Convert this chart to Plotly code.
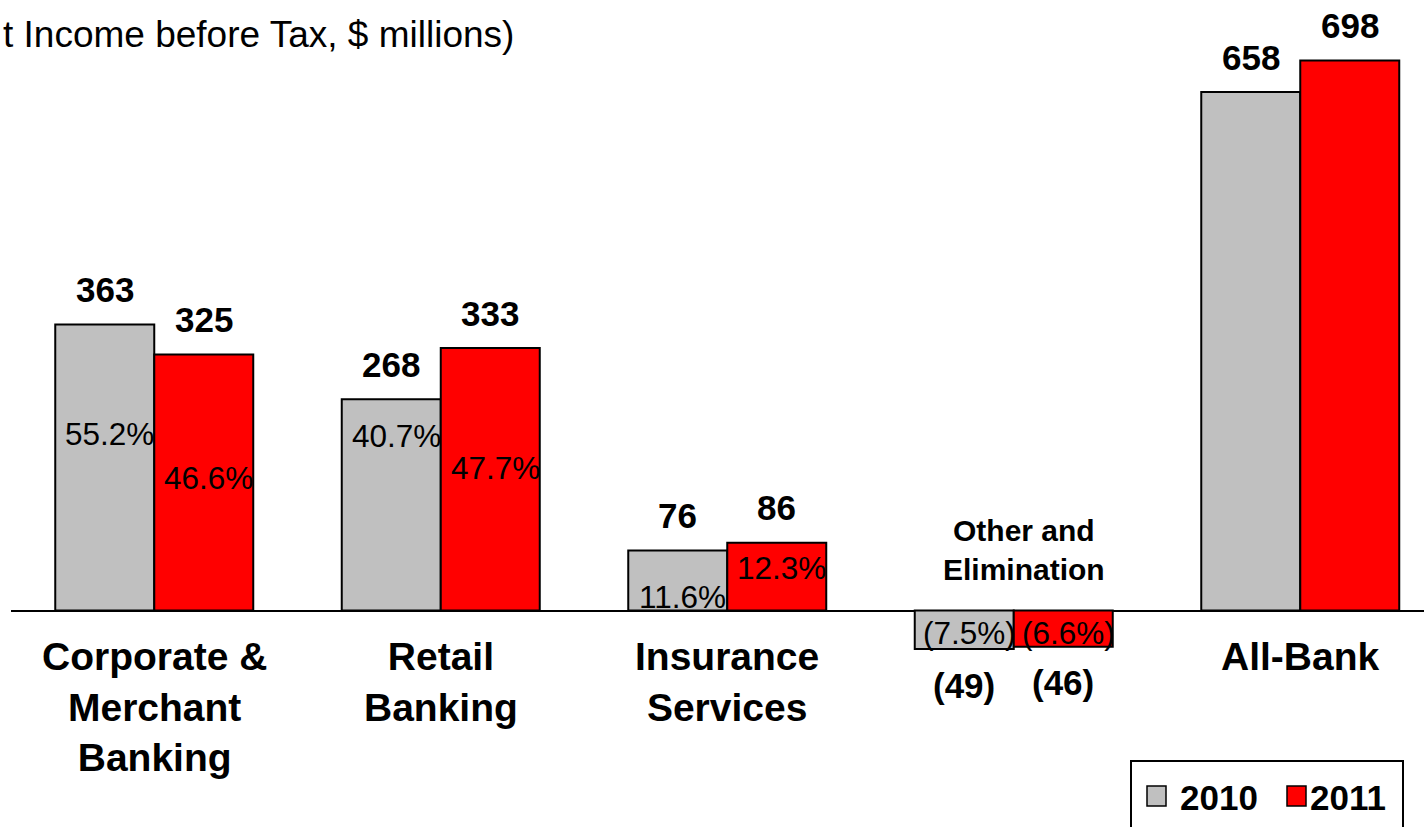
import plotly.graph_objects as go

# ---------------- data ----------------
categories = ["Corporate &<br>Merchant<br>Banking", "Retail<br>Banking",
              "Insurance<br>Services", "Other and<br>Elimination", "All-Bank"]
series_names = ["2010", "2011"]
values_2010 = [363, 268, 76, -49, 658]
values_2011 = [325, 333, 86, -46, 698]
share_2010 = ["55.2%", "40.7%", "11.6%", "(7.5%)", None]
share_2011 = ["46.6%", "47.7%", "12.3%", "(6.6%)", None]
title_text = "t Income before Tax, $ millions)"

# ---------------- style ----------------
W, H = 1424, 827
colors = ["#C0C0C0", "#FF0000"]
FONT = "Arial, 'Liberation Sans', sans-serif"
px_per_unit = 0.788
baseline_px = 610.5
x_left_px = 11
cat_step_px = 286.5
bar_w = 99 / cat_step_px
# vertical placement (in data units) of the share labels inside bars
share_y_2010 = [224, 221, 17, -28.5, None]
share_y_2011 = [168, 181, 54, -28.5, None]
label_above = [False, False, False, True, False]

y_top = baseline_px / px_per_unit
y_bot = (baseline_px - H) / px_per_unit
x_range = [-0.5, -0.5 + (W - x_left_px) / cat_step_px]

xs = list(range(len(categories)))
fig = go.Figure()
all_vals = [values_2010, values_2011]
all_share = [share_2010, share_2011]
all_share_y = [share_y_2010, share_y_2011]
offsets = [-bar_w, 0]

for k in range(2):
    fig.add_trace(go.Bar(
        x=xs, y=all_vals[k], name=series_names[k],
        width=bar_w, offset=offsets[k],
        marker=dict(color=colors[k], line=dict(color="black", width=2)),
        showlegend=False, hoverinfo="skip",
    ))

ann = []
for k in range(2):
    for j, v in enumerate(all_vals[k]):
        cx = j + offsets[k] + bar_w / 2
        txt = f"{v}" if v >= 0 else f"({-v})"
        ann.append(dict(x=cx, y=v, xref="x", yref="y", text=f"<b>{txt}</b>",
                        showarrow=False, yanchor="middle",
                        yshift=35 if v >= 0 else -36,
                        font=dict(family=FONT, size=35, color="black")))
        s = all_share[k][j]
        if s:
            ann.append(dict(x=cx, y=all_share_y[k][j], xref="x", yref="y",
                            text=s, showarrow=False, yanchor="middle", xshift=5,
                            font=dict(family=FONT, size=31.5, color="black")))

for j, c in enumerate(categories):
    if label_above[j]:
        ann.append(dict(x=j, y=0, xref="x", yref="y", text=f"<b>{c}</b>",
                        showarrow=False, yanchor="bottom", yshift=23, xshift=10,
                        font=dict(family=FONT, size=30, color="black")))
    else:
        ann.append(dict(x=j, y=0, xref="x", yref="y", text=f"<b>{c}</b>",
                        showarrow=False, yanchor="top", yshift=-22,
                        font=dict(family=FONT, size=39, color="black")))

# title
ann.append(dict(x=516 / W, y=1 - 34 / H, xref="paper", yref="paper",
                text=title_text, showarrow=False, xanchor="right", yanchor="middle",
                font=dict(family=FONT, size=37, color="black")))

# legend (manual)
shapes = [dict(type="rect", xref="paper", yref="paper",
               x0=1131 / W, x1=1403 / W, y0=1 - 835 / H, y1=1 - 761 / H,
               line=dict(color="black", width=2), fillcolor="white")]
leg_sq_x = [1147, 1287]
leg_tx_x = [1178, 1308]
for k in range(2):
    shapes.append(dict(type="rect", xref="paper", yref="paper",
                       x0=leg_sq_x[k] / W, x1=(leg_sq_x[k] + 19) / W,
                       y0=1 - 806 / H, y1=1 - 786 / H,
                       line=dict(color="black", width=1.5), fillcolor=colors[k]))
    ann.append(dict(x=leg_tx_x[k] / W, y=1 - 797 / H, xref="paper", yref="paper",
                    text=f"<b>{series_names[k]}</b>", showarrow=False,
                    xanchor="left", yanchor="middle",
                    font=dict(family=FONT, size=35, color="black")))

fig.update_layout(
    width=W, height=H, margin=dict(l=0, r=0, t=0, b=0),
    paper_bgcolor="white", plot_bgcolor="white",
    xaxis=dict(range=x_range, domain=[x_left_px / W, 1], visible=False, fixedrange=True),
    yaxis=dict(range=[y_bot, y_top], showgrid=False, showticklabels=False,
               zeroline=True, zerolinecolor="black", zerolinewidth=2, fixedrange=True),
    annotations=ann, shapes=shapes, showlegend=False,
)
fig.write_html("out.html", config={"displayModeBar": False},
               post_script="document.body.style.margin='0';document.body.style.overflow='hidden';")
